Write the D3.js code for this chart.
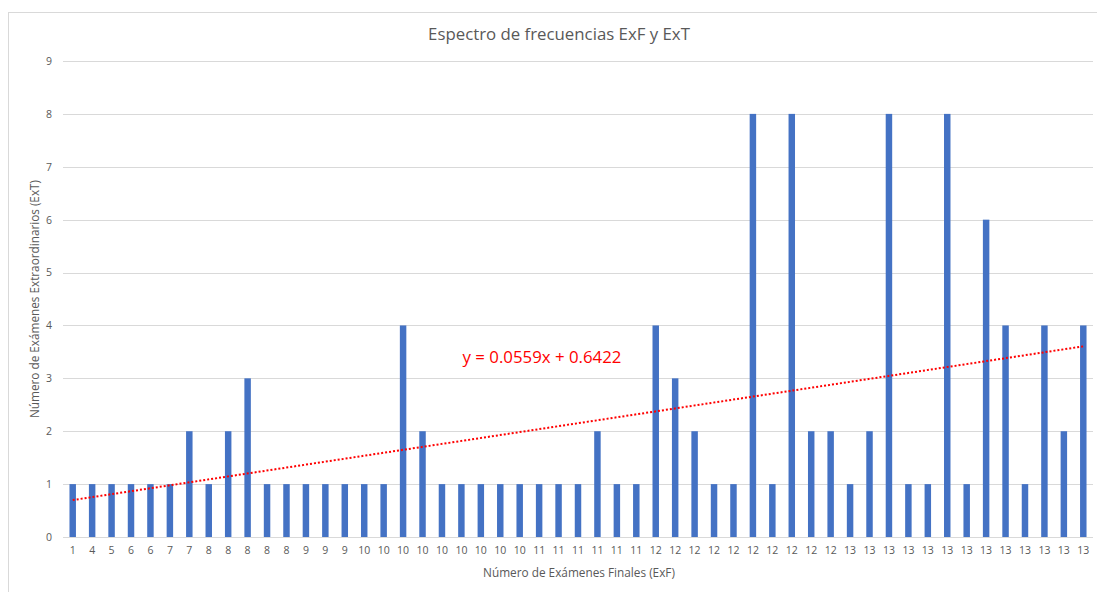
<!DOCTYPE html>
<meta charset="utf-8">
<script src="https://d3js.org/d3.v7.min.js"></script>
<style>
  body { margin: 0; background: #fff; }
  text { font-family: "Open Sans", "Noto Sans", sans-serif; fill: #595959; }
  .grid line { stroke: #d9d9d9; stroke-width: 1px; shape-rendering: crispEdges; }
  .tick text { font-size: 10.5px; }
</style>
<body>
<script>
  // Número de Exámenes Finales (ExF), one label per bar
  var exf = [1,4,5,6,6,7,7,8,8,8,8,8,9,9,9,10,10,10,10,10,10,10,10,10,
             11,11,11,11,11,11,12,12,12,12,12,12,12,12,12,12,
             13,13,13,13,13,13,13,13,13,13,13,13,13];
  // Número de Exámenes Extraordinarios (ExT)
  var ext = [1,1,1,1,1,1,2,1,2,3,1,1,1,1,1,1,1,4,2,1,1,1,1,1,1,1,1,2,1,1,
             4,3,2,1,1,8,1,8,2,2,1,2,8,1,1,8,1,6,4,1,4,2,4];
  var yTicks = [0,1,2,3,4,5,6,7,8,9];
  var trend = {slope: 0.0559, intercept: 0.6422};

  var W = 1097, H = 592;
  var mLeft = 63, mRight = 1093, mTop = 61, mBottom = 537;

  var svg = d3.select('body').append('svg')
    .attr('width', W)
    .attr('height', H);

  // chart border
  svg.append('rect')
    .attr('x', 8.5).attr('y', 12.5)
    .attr('width', 1200).attr('height', 700)
    .attr('fill', 'none')
    .attr('stroke', '#d9d9d9');

  var idx = d3.range(exf.length);
  var x = d3.scaleBand().domain(idx).range([mLeft, mRight]).paddingInner(0.667).paddingOuter(0.333);
  var y = d3.scaleLinear().domain([0, 9]).range([mBottom, mTop]);

  // grid lines
  svg.append('g').attr('class', 'grid')
    .selectAll('line').data(yTicks).enter().append('line')
    .attr('x1', mLeft).attr('x2', mRight)
    .attr('y1', function(d){ return Math.round(y(d)) + 0.5; })
    .attr('y2', function(d){ return Math.round(y(d)) + 0.5; });

  // y axis labels
  var yAxis = svg.append('g')
    .attr('transform', 'translate(' + mLeft + ',0)')
    .call(d3.axisLeft(y).tickValues(yTicks).tickSize(0).tickPadding(11));
  yAxis.select('.domain').remove();
  yAxis.selectAll('text').style('fill', '#595959');

  // bars
  svg.append('g').selectAll('rect').data(ext).enter().append('rect')
    .attr('x', function(d, i){ return x(i); })
    .attr('width', x.bandwidth())
    .attr('y', function(d){ return y(d); })
    .attr('height', function(d){ return y(0) - y(d); })
    .attr('fill', '#4472c4');

  // x axis
  var xAxis = svg.append('g')
    .attr('transform', 'translate(0,' + mBottom + ')')
    .call(d3.axisBottom(x).tickSize(0).tickPadding(10)
      .tickFormat(function(i){ return exf[i]; }));
  xAxis.select('.domain').remove();
  xAxis.selectAll('text').style('fill', '#595959');
  svg.append('line')
    .attr('x1', mLeft).attr('x2', mRight)
    .attr('y1', mBottom + 0.5).attr('y2', mBottom + 0.5)
    .attr('stroke', '#d9d9d9');

  // linear trendline (x = 1..n)
  var tx = function(k){ return x(k - 1) + x.bandwidth() / 2; };
  var n = exf.length;
  svg.append('line')
    .attr('x1', tx(1)).attr('y1', y(trend.slope * 1 + trend.intercept))
    .attr('x2', tx(n)).attr('y2', y(trend.slope * n + trend.intercept))
    .attr('stroke', '#ff0000')
    .attr('stroke-width', 2)
    .attr('stroke-dasharray', '2,2');

  function fit(sel, w) {
    var len = sel.node().getComputedTextLength();
    var fs = parseFloat(sel.style('font-size'));
    sel.style('font-size', (fs * w / len) + 'px');
  }

  var title = svg.append('text')
    .attr('x', 559).attr('y', 40)
    .attr('text-anchor', 'middle')
    .style('font-size', '18px')
    .text('Espectro de frecuencias ExF y ExT');
  fit(title, 262);

  var eq = svg.append('text')
    .attr('x', 542).attr('y', 363)
    .attr('text-anchor', 'middle')
    .style('font-size', '16px')
    .style('fill', '#ff0000')
    .text('y = ' + trend.slope + 'x + ' + trend.intercept);
  fit(eq, 159);

  var xt = svg.append('text')
    .attr('x', 579).attr('y', 577)
    .attr('text-anchor', 'middle')
    .style('font-size', '12px')
    .text('Número de Exámenes Finales (ExF)');
  fit(xt, 192);

  var yt = svg.append('text')
    .attr('transform', 'translate(39,299) rotate(-90)')
    .attr('text-anchor', 'middle')
    .style('font-size', '12px')
    .text('Número de Exámenes Extraordinarios (ExT)');
  fit(yt, 238);
</script>
</body>
</html>
